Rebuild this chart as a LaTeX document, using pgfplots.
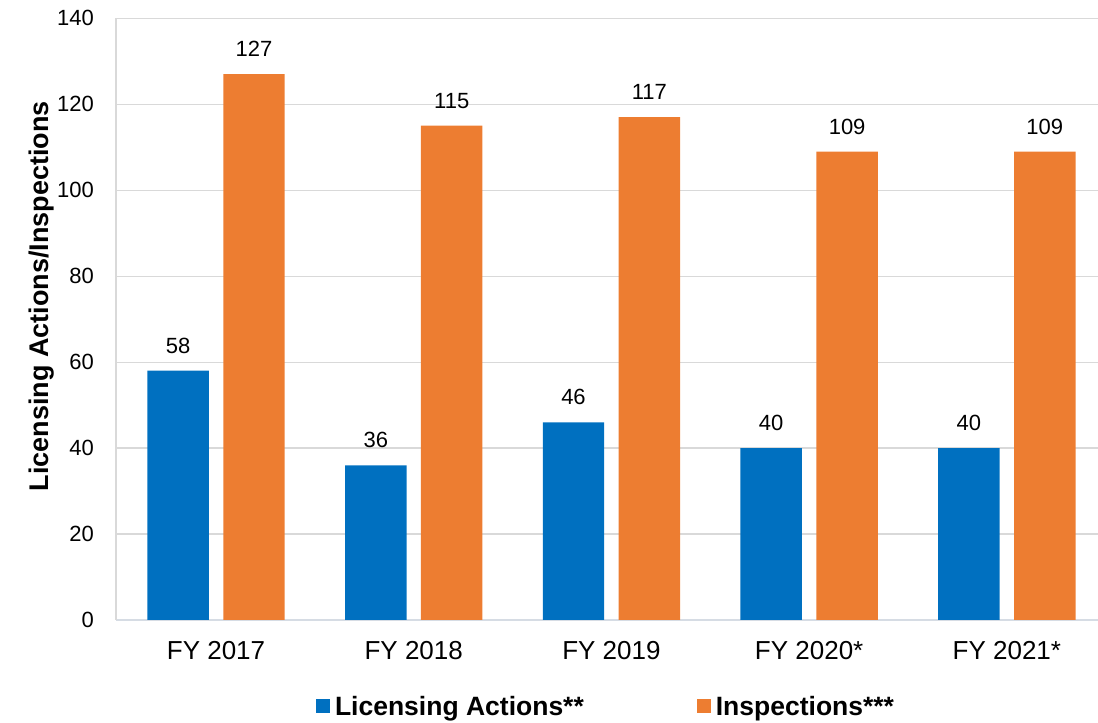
\documentclass[border=0pt]{standalone}
\usepackage{pgfplots}
\pgfplotsset{compat=1.18}
\usepackage{fontspec}
\setmainfont{Liberation Sans}
\definecolor{cblue}{HTML}{0070C0}
\definecolor{corange}{HTML}{ED7D31}
\definecolor{gridc}{HTML}{D9D9D9}
\definecolor{axisc}{HTML}{D6DCE4}
\begin{document}
\begin{tikzpicture}
\useasboundingbox (0pt,0pt) rectangle (1098pt,723pt);
\begin{axis}[
  at={(116pt,103pt)}, anchor=south west,
  scale only axis,
  width=982pt, height=601.7pt,
  xmin=-0.506, xmax=4.461,
  ymin=0, ymax=140,
  ytick={0,20,...,140},
  xtick={0,1,2,3,4},
  xticklabels={FY 2017,FY 2018,FY 2019,FY 2020*,FY 2021*},
  axis x line=bottom, axis y line=left,
  x axis line style={-, draw=axisc, line width=1.5pt},
  y axis line style={-, draw=gridc, line width=1.2pt},
  major tick length=0pt,
  ymajorgrids, grid style={draw=gridc, line width=1.2pt},
  /pgf/number format/assume math mode=true,
  yticklabel style={font=\fontsize{22}{26}\selectfont, inner sep=0pt, anchor=east, xshift=-22pt},
  xticklabel style={font=\fontsize{26}{30}\selectfont, inner sep=0pt, anchor=north, yshift=-21pt},
  ylabel={Licensing Actions/Inspections},
  ylabel style={font=\fontsize{27}{31}\selectfont\bfseries, at={(axis description cs:-0.0692,0.538)}, anchor=base},
  ybar,
  bar width=0.311,
  nodes near coords,
  every node near coord/.append style={font=\fontsize{22}{26}\selectfont, text=black, anchor=south, inner sep=0pt, yshift=17pt},
  legend columns=2,
  legend style={draw=none, fill=none, at={(axis description cs:0.498,-0.1445)}, anchor=center,
    font=\fontsize{26.5}{30}\selectfont\bfseries, inner sep=0pt, nodes={inner sep=0pt},
    /tikz/every odd column/.append style={column sep=5pt},
    /tikz/every even column/.append style={column sep=113pt}},
  legend image code/.code={\fill[#1, draw=none] (0pt,-5.7pt) rectangle (14pt,8.3pt);},
]
\addplot[bar shift=-0.192, fill=cblue, draw=none] coordinates {(0,58) (1,36) (2,46) (3,40) (4,40)};
\addlegendentry{Licensing Actions**}
\addplot[bar shift=0.192, fill=corange, draw=none] coordinates {(0,127) (1,115) (2,117) (3,109) (4,109)};
\addlegendentry{Inspections***}
\end{axis}
\end{tikzpicture}
\end{document}
